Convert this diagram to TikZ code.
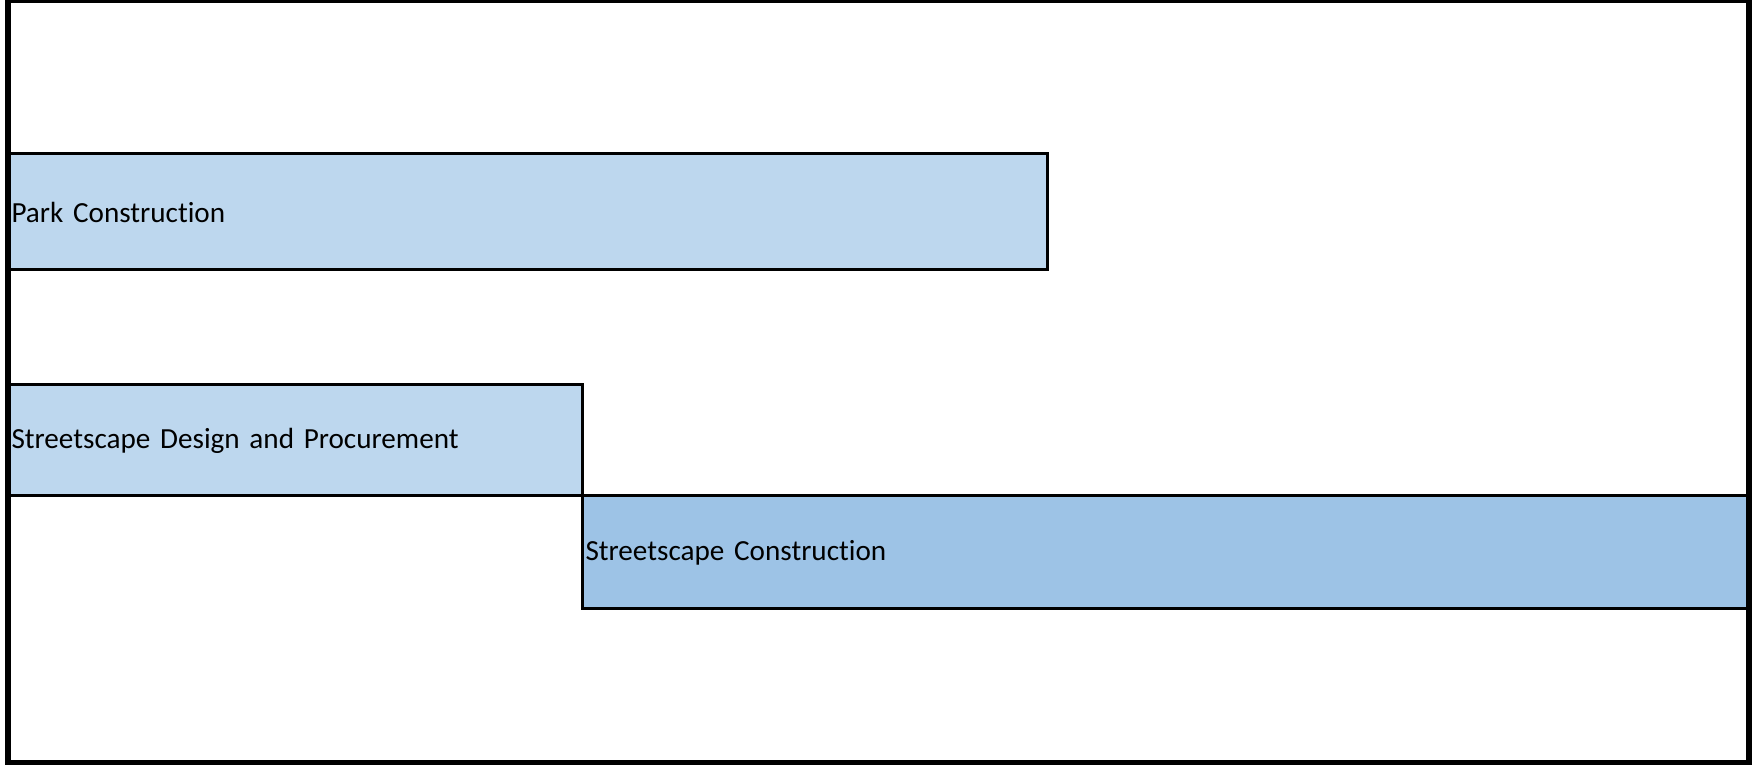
\documentclass[tikz,border=0pt]{standalone}
\usepackage{fontspec}
\setmainfont{Carlito}[Ligatures={NoCommon}]
\usepackage{xcolor}
\definecolor{barlight}{HTML}{BDD7EE}
\definecolor{barmid}{HTML}{9DC3E6}
\tikzset{bar/.style={draw, line width=0.03cm, anchor=north west, outer sep=0pt, inner xsep=0.035cm, inner ysep=0pt, align=left, font=\fontsize{8.3}{10}\selectfont}}

\begin{document}
\begin{tikzpicture}
\useasboundingbox (0,0) rectangle (17.52,7.65);
\node[bar, fill=barlight, text width=10.32cm, minimum height=1.16cm] (park) at (0.08,6.11) {Park Construction};
\node[bar, fill=barlight, text width=5.67cm, minimum height=1.11cm] (design) at (0.08,3.80) {Streetscape Design and Procurement};
\node[bar, fill=barmid, text width=11.58cm, minimum height=1.13cm] (build) at (design.south east) {Streetscape Construction};
\draw[line width=0.06cm] (0.08,0.02) rectangle (17.49,7.647);
\end{tikzpicture}
\end{document}
